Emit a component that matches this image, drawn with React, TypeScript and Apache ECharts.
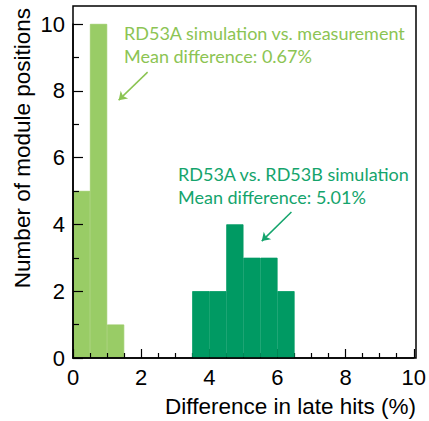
import React, { useEffect, useRef } from "react";
import * as echarts from "echarts";

// Histogram data (bin width 0.5 %)
const binWidth = 0.5;
const lightBinStarts = [0, 0.5, 1.0];
const lightCounts = [5, 10, 1];
const darkBinStarts = [3.5, 4.0, 4.5, 5.0, 5.5, 6.0];
const darkCounts = [2, 2, 4, 3, 3, 2];

const xTicks = [0, 2, 4, 6, 8, 10];
const yTicks = [0, 2, 4, 6, 8, 10];

const lightLabel = ["RD53A simulation vs. measurement", "Mean difference: 0.67%"];
const darkLabel = ["RD53A vs. RD53B simulation", "Mean difference: 5.01%"];

// annotation arrows in data coordinates [from, to]
const lightArrow = [[2.19, 8.56], [1.34, 7.72]];
const darkArrow = [[6.41, 4.37], [5.54, 3.5]];

const LIGHT_BAR = "#99CC66";
const LIGHT_TEXT = "#8CC453";
const DARK_BAR = "#009A63";
const DARK_TEXT = "#14A46C";

const build = (starts: number[], counts: number[]) =>
  starts.map((s, i) => [s, s + binWidth, counts[i]]);

const makeRender = (color: string) => (params: any, api: any) => {
  const x0 = api.value(0);
  const x1 = api.value(1);
  const y = api.value(2);
  const p0 = api.coord([x0, y]);
  const p1 = api.coord([x1, 0]);
  return {
    type: "rect",
    shape: { x: p0[0] + 0.3, y: p0[1] + 0.3, width: p1[0] - p0[0] - 0.6, height: p1[1] - p0[1] - 1.1 },
    style: { fill: color, stroke: color, lineWidth: 0.8 },
  };
};

const arrowLine = (arrow: number[][], color: string) => ({
  silent: true,
  symbol: ["none", "arrow"],
  symbolSize: 8,
  label: { show: false },
  lineStyle: { color, width: 1.5, type: "solid" },
  data: [[{ coord: arrow[0] }, { coord: arrow[1] }]],
});

export default function App() {
  const ref = useRef<HTMLDivElement>(null);
  useEffect(() => {
    const chart = echarts.init(ref.current!, null, { renderer: "svg" });
    const tickFont = { fontFamily: "Liberation Sans", fontSize: 22, color: "#000" };
    const annFont = "Lato";
    chart.setOption({
      animation: false,
      grid: { left: 73, right: 13, top: 24, bottom: 63 },
      xAxis: {
        type: "value",
        z: 5,
        min: xTicks[0],
        max: xTicks[xTicks.length - 1],
        interval: 2,
        splitLine: { show: false },
        axisLine: { lineStyle: { color: "#000", width: 1.5 } },
        axisTick: { inside: true, length: 9, lineStyle: { color: "#000", width: 1.2 } },
        minorTick: { show: true, splitNumber: 4, length: 5, lineStyle: { color: "#000", width: 1.2 } },
        axisLabel: { ...tickFont, margin: 8 },
      },
      yAxis: {
        type: "value",
        z: 5,
        min: yTicks[0],
        max: yTicks[yTicks.length - 1],
        interval: 2,
        splitLine: { show: false },
        axisLine: { show: true, lineStyle: { color: "#000", width: 1.5 } },
        axisTick: { show: true, inside: true, length: 10, lineStyle: { color: "#000", width: 1.2 } },
        minorTick: { show: true, splitNumber: 2, length: 6, lineStyle: { color: "#000", width: 1.2 } },
        axisLabel: { ...tickFont, margin: 8 },
      },
      series: [
        {
          type: "custom",
          renderItem: makeRender(LIGHT_BAR),
          encode: { x: [0, 1], y: 2 },
          data: build(lightBinStarts, lightCounts),
          markLine: arrowLine(lightArrow, LIGHT_TEXT),
          z: 1,
        },
        {
          type: "custom",
          renderItem: makeRender(DARK_BAR),
          encode: { x: [0, 1], y: 2 },
          data: build(darkBinStarts, darkCounts),
          markLine: arrowLine(darkArrow, DARK_TEXT),
          z: 8,
        },
      ],
      graphic: [
        {
          type: "rect",
          shape: { x: 73, y: 6, width: 343, height: 352 },
          style: { fill: "none", stroke: "#000", lineWidth: 1.5 },
          silent: true,
          z: 10,
        },
        {
          type: "text",
          x: 22,
          y: 8,
          rotation: Math.PI / 2,
          style: {
            text: "Number of module positions",
            fontFamily: "Liberation Sans",
            fontSize: 22.5,
            fill: "#000",
            align: "right",
            verticalAlign: "middle",
          },
        },
        {
          type: "text",
          x: 416,
          y: 406,
          style: {
            text: "Difference in late hits (%)",
            fontFamily: "Liberation Sans",
            fontSize: 22.5,
            fill: "#000",
            align: "right",
            verticalAlign: "middle",
          },
        },
        ...lightLabel.map((t, i) => ({
          type: "text",
          x: 124,
          y: 33 + i * 23,
          style: { text: t, fontFamily: annFont, fontSize: 18, fill: LIGHT_TEXT, align: "left", verticalAlign: "middle" },
        })),
        ...darkLabel.map((t, i) => ({
          type: "text",
          x: 178,
          y: 174 + i * 23,
          style: { text: t, fontFamily: annFont, fontSize: 18, fill: DARK_TEXT, align: "left", verticalAlign: "middle" },
        })),
      ],
    });
    return () => chart.dispose();
  }, []);
  return (
    <div
      ref={ref}
      style={{ position: "fixed", left: 0, top: 0, width: 429, height: 421, background: "#fff" }}
    />
  );
}
